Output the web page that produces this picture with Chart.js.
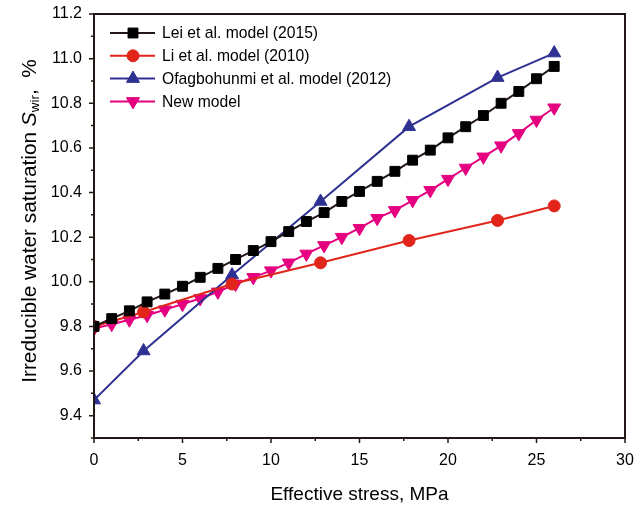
<!DOCTYPE html>
<html>
<head>
<meta charset="utf-8">
<script src="https://cdn.jsdelivr.net/npm/chart.js@4/dist/chart.umd.min.js"></script>
<style>
  html, body { margin: 0; padding: 0; background: #fff; }
  #wrap { width: 644px; height: 509px; }
</style>
</head>
<body>
<div id="wrap"><canvas id="c" width="644" height="509"></canvas></div>
<script>
// Effective stress (MPa) sampling for each model
const stressFine = [0,1,2,3,4,5,6,7,8,9,10,11,12,13,14,15,16,17,18,19,20,21,22,23,24,25,26];
const stressCoarse = [0, 2.8, 7.8, 12.8, 17.8, 22.8, 26];

// Irreducible water saturation (%)
const leiModel = [9.80, 9.835, 9.87, 9.91, 9.945, 9.98, 10.02, 10.06, 10.10, 10.14, 10.18, 10.225, 10.27,
  10.31, 10.36, 10.405, 10.45, 10.495, 10.545, 10.59, 10.645, 10.695, 10.745, 10.80, 10.853, 10.91, 10.965];
const liModel = [9.80, 9.865, 9.99, 10.085, 10.185, 10.275, 10.34];
const ofagModel = [9.47, 9.69, 10.03, 10.36, 10.695, 10.915, 11.025];
const newModel = [9.79, 9.81, 9.83, 9.85, 9.875, 9.90, 9.925, 9.955, 9.99, 10.02, 10.05, 10.085, 10.125,
  10.163, 10.20, 10.24, 10.285, 10.32, 10.365, 10.41, 10.46, 10.51, 10.56, 10.61, 10.665, 10.725, 10.78];

const seriesNames = ['Lei et al. model (2015)', 'Li et al. model (2010)', 'Ofagbohunmi et al. model (2012)', 'New model'];

const xTicks = [0, 5, 10, 15, 20, 25, 30];
const yTicks = [9.4, 9.6, 9.8, 10.0, 10.2, 10.4, 10.6, 10.8, 11.0, 11.2];

const FONT = '"Liberation Sans", Arial, Helvetica, sans-serif';
const AXIS = '#231815';

const pts = (xs, ys) => ys.map((y, i) => ({ x: xs[i], y }));

const datasets = [
  { label: seriesNames[0], data: pts(stressFine, leiModel), borderColor: '#231815', backgroundColor: '#000000',
    pointBorderColor: '#000000', pointStyle: 'rect', pointRadius: 7, borderWidth: 2 },
  { label: seriesNames[1], data: pts(stressCoarse, liModel), borderColor: '#e1251b', backgroundColor: '#e1251b',
    pointBorderColor: '#e1251b', pointStyle: 'circle', pointRadius: 6, borderWidth: 2 },
  { label: seriesNames[2], data: pts(stressCoarse, ofagModel), borderColor: '#2e3192', backgroundColor: '#2e3192',
    pointBorderColor: '#2e3192', pointStyle: 'triangle', pointRadius: 7.5, borderWidth: 2 },
  { label: seriesNames[3], data: pts(stressFine, newModel), borderColor: '#e4007f', backgroundColor: '#e4007f',
    pointBorderColor: '#e4007f', pointStyle: 'triangle', pointRotation: 180, pointRadius: 7.5, borderWidth: 2 }
];
datasets.forEach(d => { d.showLine = true; d.pointBorderWidth = 1; d.pointBackgroundColor = d.backgroundColor; d.tension = 0; });

// Frame, outward major/minor ticks, rich y title and line+marker legend
const decorations = {
  id: 'decorations',
  afterDatasetsDraw(chart) {
    const { ctx, chartArea: a, scales } = chart;
    const xs = scales.x, ys = scales.y;
    ctx.save();
    ctx.strokeStyle = AXIS;
    ctx.lineWidth = 2;
    ctx.strokeRect(a.left, a.top, a.right - a.left, a.bottom - a.top);

    ctx.lineWidth = 1.5;
    ctx.beginPath();
    for (let v = 0; v <= 30.001; v += 2.5) {
      const px = xs.getPixelForValue(v);
      const major = Math.abs(v / 5 - Math.round(v / 5)) < 1e-6;
      ctx.moveTo(px, a.bottom);
      ctx.lineTo(px, a.bottom + (major ? 5 : 3));
    }
    for (let k = 0; k <= 19; k++) {
      const v = 9.3 + k * 0.1;
      const py = ys.getPixelForValue(v);
      const major = k % 2 === 1;
      ctx.moveTo(a.left, py);
      ctx.lineTo(a.left - (major ? 5 : 3), py);
    }
    ctx.stroke();

    // y axis title with italic S and subscript "wir"
    ctx.save();
    ctx.translate(30, 221);
    ctx.rotate(-Math.PI / 2);
    ctx.fillStyle = '#000';
    ctx.textBaseline = 'middle';
    const parts = [
      { t: 'Irreducible water saturation ', f: '20.8px ' + FONT, dy: 0 },
      { t: 'S', f: 'italic 20.8px ' + FONT, dy: 0 },
      { t: 'wir', f: '13.5px ' + FONT, dy: 5 },
      { t: ',  %', f: '20.8px ' + FONT, dy: 0 }
    ];
    let total = 0;
    parts.forEach(p => { ctx.font = p.f; p.w = ctx.measureText(p.t).width; total += p.w; });
    let cx = -total / 2;
    parts.forEach(p => { ctx.font = p.f; ctx.textAlign = 'left'; ctx.fillText(p.t, cx, p.dy); cx += p.w; });
    ctx.restore();

    // legend
    ctx.font = '15.7px ' + FONT;
    ctx.textBaseline = 'middle';
    ctx.textAlign = 'left';
    chart.data.datasets.forEach((d, i) => {
      const y = 33 + i * 22.8;
      ctx.strokeStyle = d.borderColor;
      ctx.lineWidth = 2;
      ctx.beginPath();
      ctx.moveTo(110, y);
      ctx.lineTo(155, y);
      ctx.stroke();
      ctx.fillStyle = d.backgroundColor;
      ctx.strokeStyle = d.pointBorderColor;
      ctx.lineWidth = 1;
      Chart.helpers.drawPoint(ctx, { pointStyle: d.pointStyle, rotation: d.pointRotation || 0,
        radius: d.pointRadius, borderWidth: 1 }, 133, y);
      ctx.fillStyle = '#000';
      ctx.fillText(d.label, 162, y + 1);
    });
    ctx.restore();
  }
};

new Chart(document.getElementById('c'), {
  type: 'scatter',
  data: { datasets },
  options: {
    responsive: false,
    animation: false,
    layout: { padding: { top: 14, right: 19, left: 0, bottom: 0 } },
    plugins: { legend: { display: false }, tooltip: { enabled: false } },
    scales: {
      x: {
        type: 'linear', min: 0, max: 30,
        grid: { display: false, drawTicks: false },
        border: { display: false },
        afterBuildTicks: s => { s.ticks = xTicks.map(v => ({ value: v })); },
        afterFit: s => { s.height = 71; s.paddingLeft = 0; s.paddingRight = 0; },
        ticks: { padding: 13, color: '#000', font: { family: FONT, size: 16 }, maxRotation: 0,
          callback: v => String(v) },
        title: { display: true, text: 'Effective stress, MPa', color: '#000',
          font: { family: FONT, size: 19 }, padding: { top: 0, bottom: 3 } }
      },
      y: {
        type: 'linear', min: 9.3, max: 11.2,
        grid: { display: false, drawTicks: false },
        border: { display: false },
        afterBuildTicks: s => { s.ticks = yTicks.map(v => ({ value: v })); },
        afterFit: s => { s.width = 94; s.paddingTop = 0; s.paddingBottom = 0; },
        ticks: { padding: 12, color: '#000', font: { family: FONT, size: 16 },
          callback: v => Number(v).toFixed(1) }
      }
    }
  },
  plugins: [decorations]
});
</script>
</body>
</html>
